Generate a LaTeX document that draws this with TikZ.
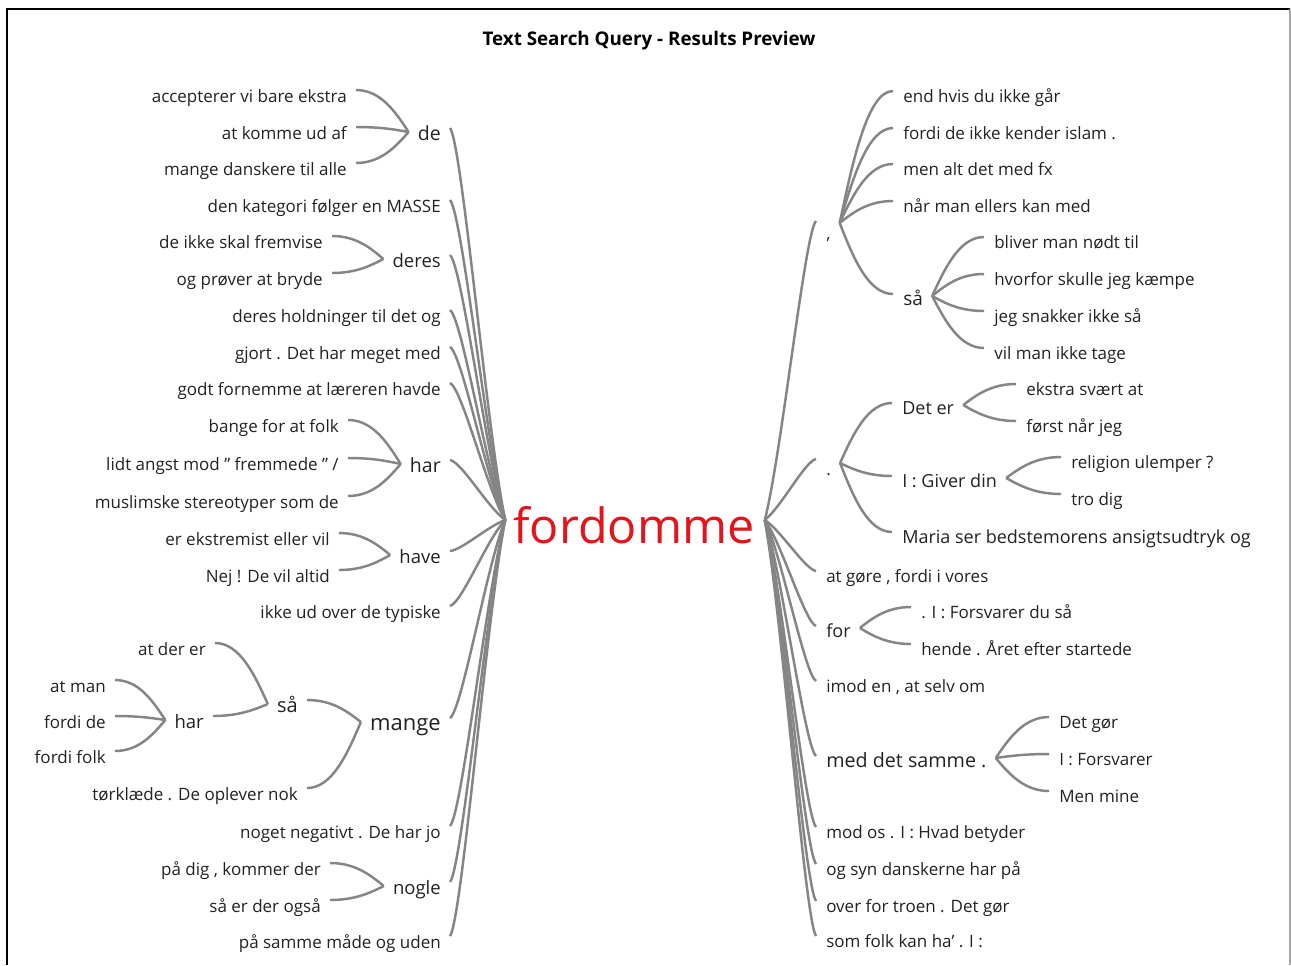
\documentclass[tikz,border=0pt]{standalone}
\usepackage{fontspec}
\setmainfont{Open Sans}
\usetikzlibrary{calc}
\definecolor{txt}{HTML}{222222}
\definecolor{ln}{HTML}{858585}
\definecolor{hot}{HTML}{E3141C}
\newcommand\pxfont[1]{\fontsize{\fpeval{#1*0.75}}{\fpeval{#1*0.9}}\selectfont}
% generic cubic connector: start, end, control factors
\newcommand\tcv[6]{\draw[conn] let \p1=(#1), \p2=(#2) in (\p1) .. controls ({\x1+#3*(\x2-\x1)},{\y1+#4*(\y2-\y1)}) and ({\x2-#5*(\x2-\x1)},{\y2-#6*(\y2-\y1)}) .. (\p2);}
\newcommand\rootL[1]{\tcv{[shift={(9,-12)}]#1.base east}{rL}{0.22}{0.04}{0.33}{0.22}}
\newcommand\rootR[1]{\tcv{[shift={(-10,-11)}]#1.base west}{rR}{0.22}{0.04}{0.33}{0.22}}
\newcommand\bL[2]{\tcv{[shift={(9,-12)}]#1.base east}{[shift={(-9,-8)}]#2.base west}{0.47}{0}{0.25}{0.48}}
\newcommand\bR[2]{\tcv{[shift={(-10,-11)}]#1.base west}{[shift={(9,-9)}]#2.base east}{0.47}{0}{0.25}{0.48}}
\begin{document}
\begin{tikzpicture}[x=0.75pt,y=-0.75pt,
  conn/.style={draw=ln, line width=1.85pt},
  lf/.style={font=\pxfont{17}, text=txt, inner sep=0pt, anchor=base east},
  rt/.style={font=\pxfont{17}, text=txt, inner sep=0pt, anchor=base west},
]
\fill[white] (0,0) rectangle (1291,965);
\useasboundingbox (0,0) rectangle (1291,965);
\draw[black, line width=1.5pt] (7,965) -- (7,9) -- (1290,9);
\draw[gray!70, line width=1.2pt] (1290,9) -- (1290,965);

\node[font=\bfseries\pxfont{18.8}, text=black, inner sep=0pt, anchor=base] (title) at (649,45) {Text Search Query - Results Preview};

% root
\node[font=\pxfont{48.5}, text=hot, inner sep=0pt, anchor=base] (fw) at (634,543) {fordomme};
\coordinate (rL) at ([shift={(-8,-23)}]fw.base west);
\coordinate (rR) at ([shift={(10,-23)}]fw.base east);

% ---------- left, level 1
\node[lf,font=\pxfont{19.5}] (de) at (441,140) {de};
\node[lf] (kat) at (441,212) {den kategori følger en MASSE};
\node[lf,font=\pxfont{18.5}] (deres) at (441,267) {deres};
\node[lf] (hold) at (441,322) {deres holdninger til det og};
\node[lf] (gjort) at (441,359) {gjort . Det har meget med};
\node[lf] (godt) at (441,395) {godt fornemme at læreren havde};
\node[lf,font=\pxfont{19.5}] (har) at (441,472) {har};
\node[lf,font=\pxfont{18.5}] (have) at (441,563) {have};
\node[lf] (ikke) at (441,618) {ikke ud over de typiske};
\node[lf,font=\pxfont{22}] (mange) at (441,730) {mange};
\node[lf] (noget) at (441,838) {noget negativt . De har jo};
\node[lf,font=\pxfont{18.5}] (nogle) at (441,894) {nogle};
\node[lf] (paa) at (441,948) {på samme måde og uden};

% left, deeper
\node[lf] (a1) at (347,102) {accepterer vi bare ekstra};
\node[lf] (a2) at (347,139) {at komme ud af};
\node[lf] (a3) at (347,175) {mange danskere til alle};
\node[lf] (d1) at (323,248) {de ikke skal fremvise};
\node[lf] (d2) at (323,285) {og prøver at bryde};
\node[lf] (h1) at (339,432) {bange for at folk};
\node[lf] (h2) at (339,470) {lidt angst mod " fremmede " /};
\node[lf] (h3) at (339,508) {muslimske stereotyper som de};
\node[lf] (v1) at (330,545) {er ekstremist eller vil};
\node[lf] (v2) at (330,582) {Nej ! De vil altid};
\node[lf,font=\pxfont{20}] (lsaa) at (298,712) {så};
\node[lf] (tork) at (298,800) {tørklæde . De oplever nok};
\node[lf] (adr) at (206,655) {at der er};
\node[lf,font=\pxfont{18.5}] (lhar) at (204,728) {har};
\node[lf] (am) at (106,692) {at man};
\node[lf] (fd) at (106,728) {fordi de};
\node[lf] (ff) at (106,763) {fordi folk};
\node[lf] (n1) at (321,875) {på dig , kommer der};
\node[lf] (n2) at (321,912) {så er der også};

% ---------- right, level 1
\node[rt] (cm) at (826,239) {,};
\node[rt] (dt) at (826,475) {.};
\node[rt] (ag) at (826,582) {at gøre , fordi i vores};
\node[rt,font=\pxfont{18}] (fr) at (826,637) {for};
\node[rt] (imod) at (826,692) {imod en , at selv om};
\node[rt,font=\pxfont{19.7}] (med) at (826,767) {med det samme .};
\node[rt] (mo) at (826,838) {mod os . I : Hvad betyder};
\node[rt] (os) at (826,875) {og syn danskerne har på};
\node[rt] (ov) at (826,912) {over for troen . Det gør};
\node[rt] (sf) at (826,947) {som folk kan ha' . I :};

% right, deeper
\node[rt] (c1) at (903,102) {end hvis du ikke går};
\node[rt] (c2) at (903,139) {fordi de ikke kender islam .};
\node[rt] (c3) at (903,175) {men alt det med fx};
\node[rt] (c4) at (903,212) {når man ellers kan med};
\node[rt,font=\pxfont{19}] (rsaa) at (903,305) {så};
\node[rt] (s1) at (994,248) {bliver man nødt til};
\node[rt] (s2) at (994,285) {hvorfor skulle jeg kæmpe};
\node[rt] (s3) at (994,322) {jeg snakker ikke så};
\node[rt] (s4) at (994,359) {vil man ikke tage};
\node[rt,font=\pxfont{18}] (dter) at (902,414) {Det er};
\node[rt,font=\pxfont{18}] (giv) at (902,487) {I : Giver din};
\node[rt,font=\pxfont{18}] (maria) at (902,543) {Maria ser bedstemorens ansigtsudtryk og};
\node[rt] (e1) at (1026,395) {ekstra svært at};
\node[rt] (e2) at (1026,432) {først når jeg};
\node[rt] (g1) at (1071,468) {religion ulemper ?};
\node[rt] (g2) at (1071,505) {tro dig};
\node[rt] (f1) at (921,618) {. I : Forsvarer du så};
\node[rt] (f2) at (921,655) {hende . Året efter startede};
\node[rt] (m1) at (1059,728) {Det gør};
\node[rt] (m2) at (1059,765) {I : Forsvarer};
\node[rt] (m3) at (1059,802) {Men mine};

% ---------- connectors, left root
\rootL{de}\rootL{kat}\rootL{deres}\rootL{hold}\rootL{gjort}\rootL{godt}\rootL{har}
\rootL{have}\rootL{ikke}\rootL{mange}\rootL{noget}\rootL{nogle}\rootL{paa}
\bL{a1}{de}\bL{a2}{de}\bL{a3}{de}
\bL{d1}{deres}\bL{d2}{deres}
\bL{h1}{har}\bL{h2}{har}\bL{h3}{har}
\bL{v1}{have}\bL{v2}{have}
\bL{lsaa}{mange}\bL{tork}{mange}
\bL{adr}{lsaa}\bL{lhar}{lsaa}
\bL{am}{lhar}\bL{fd}{lhar}\bL{ff}{lhar}
\bL{n1}{nogle}\bL{n2}{nogle}

% ---------- connectors, right root
\tcv{[shift={(-10,-18)}]cm.base west}{rR}{0.22}{0.04}{0.33}{0.22}
\tcv{[shift={(-10,-16)}]dt.base west}{rR}{0.22}{0.04}{0.33}{0.22}
\rootR{ag}\rootR{fr}\rootR{imod}\rootR{med}\rootR{mo}\rootR{os}\rootR{ov}\rootR{sf}
\tcv{[shift={(-10,-11)}]c1.base west}{[shift={(9,-16)}]cm.base east}{0.47}{0}{0.25}{0.48}
\tcv{[shift={(-10,-11)}]c2.base west}{[shift={(9,-16)}]cm.base east}{0.47}{0}{0.25}{0.48}
\tcv{[shift={(-10,-11)}]c3.base west}{[shift={(9,-16)}]cm.base east}{0.47}{0}{0.25}{0.48}
\tcv{[shift={(-10,-11)}]c4.base west}{[shift={(9,-16)}]cm.base east}{0.47}{0}{0.25}{0.48}
\tcv{[shift={(-10,-11)}]rsaa.base west}{[shift={(9,-16)}]cm.base east}{0.47}{0}{0.25}{0.48}
\bR{s1}{rsaa}\bR{s2}{rsaa}\bR{s3}{rsaa}\bR{s4}{rsaa}
\tcv{[shift={(-10,-11)}]dter.base west}{[shift={(9,-12)}]dt.base east}{0.47}{0}{0.25}{0.48}
\tcv{[shift={(-10,-11)}]giv.base west}{[shift={(9,-12)}]dt.base east}{0.47}{0}{0.25}{0.48}
\tcv{[shift={(-10,-11)}]maria.base west}{[shift={(9,-12)}]dt.base east}{0.47}{0}{0.25}{0.48}
\bR{e1}{dter}\bR{e2}{dter}
\bR{g1}{giv}\bR{g2}{giv}
\bR{f1}{fr}\bR{f2}{fr}
\bR{m1}{med}\bR{m2}{med}\bR{m3}{med}
\end{tikzpicture}
\end{document}
